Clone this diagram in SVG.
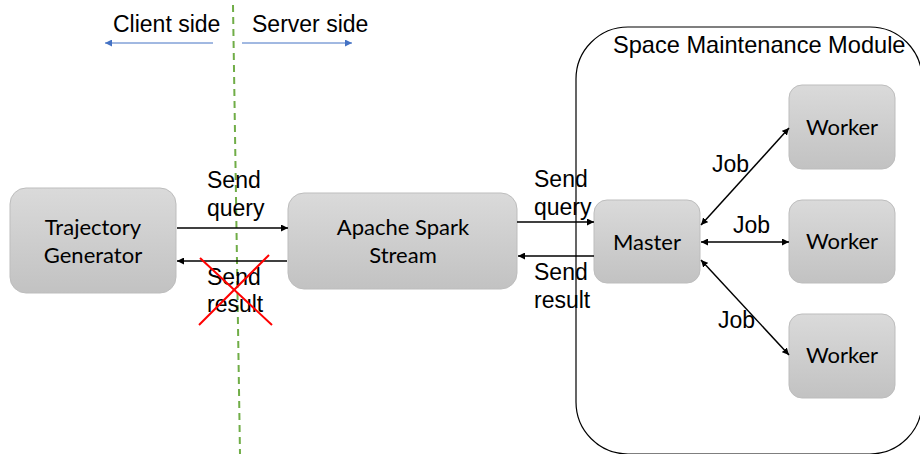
<svg xmlns="http://www.w3.org/2000/svg" width="920" height="454" viewBox="0 0 920 454">
<defs>
<linearGradient id="g" x1="0" y1="0" x2="0" y2="1">
<stop offset="0" stop-color="#dadada"/>
<stop offset="1" stop-color="#c2c2c2"/>
</linearGradient>
<marker id="ah" viewBox="0 0 10 10" refX="10" refY="5" markerWidth="7" markerHeight="7" markerUnits="userSpaceOnUse" orient="auto-start-reverse">
<path d="M0,0 L10,5 L0,10 z" fill="#000"/>
</marker>
<marker id="bh" viewBox="0 0 10 10" refX="10" refY="5" markerWidth="8" markerHeight="7" markerUnits="userSpaceOnUse" orient="auto">
<path d="M0,0 L10,5 L0,10 z" fill="#4472c4"/>
</marker>
<style>
.box{fill:url(#g);stroke:#bdbdbd;stroke-width:1}
.bl{font-family:Lato,"Liberation Sans",sans-serif;font-size:22px;fill:#000;text-anchor:middle}
.t{font-family:"Liberation Sans",Arial,sans-serif;font-size:23px;fill:#000}
.c{stroke:#000;stroke-width:1.5;fill:none}
.cb{stroke:#000;stroke-width:1.5;fill:none;marker-end:url(#ah)}
.cd{stroke:#000;stroke-width:1.5;fill:none;marker-start:url(#ah);marker-end:url(#ah)}
.blue{stroke:#4472c4;stroke-width:1;fill:none;marker-end:url(#bh)}
</style>
</defs>
<rect width="920" height="454" fill="#fff"/>

<g id="module">
<rect x="576" y="27" width="346" height="427" rx="52" ry="52" fill="none" stroke="#000" stroke-width="1.2"/>
<text class="t" x="613" y="53" style="font-size:23.6px">Space Maintenance Module</text>
</g>

<g id="divider">
<line x1="233" y1="5" x2="240" y2="454" stroke="#70ad47" stroke-width="2" stroke-dasharray="7,5"/>
<text class="t" x="113" y="32">Client side</text>
<text class="t" x="252" y="32">Server side</text>
<line class="blue" x1="213" y1="43" x2="105" y2="43"/>
<line class="blue" x1="242" y1="43" x2="352" y2="43"/>
</g>

<g id="trajectory-generator">
<rect class="box" x="10" y="188" width="166" height="105" rx="16"/>
<text class="bl" x="93" y="235">Trajectory</text>
<text class="bl" x="93" y="263">Generator</text>
</g>

<g id="spark-stream">
<rect class="box" x="288" y="193" width="229" height="96" rx="16"/>
<text class="bl" x="403" y="235">Apache Spark</text>
<text class="bl" x="403" y="263">Stream</text>
</g>

<g id="master">
<rect class="box" x="594" y="200" width="106" height="83" rx="13"/>
<text class="bl" x="647" y="250">Master</text>
</g>

<g id="worker1">
<rect class="box" x="789" y="85" width="106" height="84" rx="13"/>
<text class="bl" x="842" y="135">Worker</text>
</g>
<g id="worker2">
<rect class="box" x="789" y="200" width="106" height="83" rx="13"/>
<text class="bl" x="842" y="249">Worker</text>
</g>
<g id="worker3">
<rect class="box" x="789" y="314" width="106" height="84" rx="13"/>
<text class="bl" x="842" y="363">Worker</text>
</g>

<g id="connectors">
<line class="cb" x1="177" y1="228" x2="288" y2="228"/>
<line class="cb" x1="287" y1="261" x2="177" y2="261"/>
<line class="cb" x1="517" y1="222" x2="594" y2="222"/>
<line class="cb" x1="594" y1="256" x2="518" y2="256"/>
<line class="cd" x1="701" y1="225" x2="789" y2="128"/>
<line class="cd" x1="701" y1="242" x2="789" y2="242"/>
<line class="cd" x1="701" y1="260" x2="789" y2="355"/>
<text class="t" x="207" y="188">Send</text>
<text class="t" x="207" y="216">query</text>
<text class="t" x="207" y="285">Send</text>
<text class="t" x="207" y="312">result</text>
<line x1="200" y1="258" x2="272" y2="325" stroke="#ff0000" stroke-width="2"/>
<line x1="269" y1="255" x2="199" y2="325" stroke="#ff0000" stroke-width="2"/>
<text class="t" x="534" y="187">Send</text>
<text class="t" x="534" y="215">query</text>
<text class="t" x="534" y="280">Send</text>
<text class="t" x="534" y="308">result</text>
<text class="t" x="712" y="172">Job</text>
<text class="t" x="733" y="233">Job</text>
<text class="t" x="718" y="328">Job</text>
</g>
</svg>
